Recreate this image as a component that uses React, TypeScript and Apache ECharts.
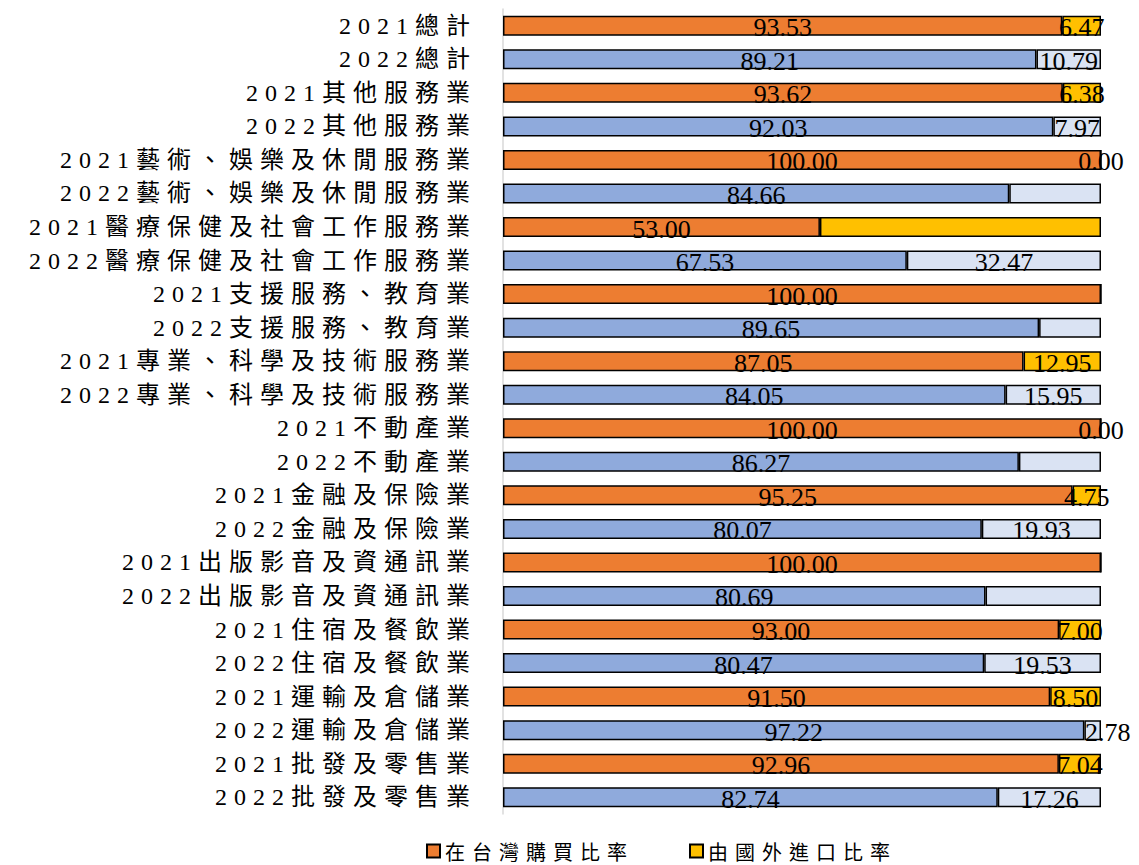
import React, { useEffect, useRef } from "react";
import * as echarts from "echarts";

const categories = [
  "2021總計", "2022總計",
  "2021其他服務業", "2022其他服務業",
  "2021藝術、娛樂及休閒服務業", "2022藝術、娛樂及休閒服務業",
  "2021醫療保健及社會工作服務業", "2022醫療保健及社會工作服務業",
  "2021支援服務、教育業", "2022支援服務、教育業",
  "2021專業、科學及技術服務業", "2022專業、科學及技術服務業",
  "2021不動產業", "2022不動產業",
  "2021金融及保險業", "2022金融及保險業",
  "2021出版影音及資通訊業", "2022出版影音及資通訊業",
  "2021住宿及餐飲業", "2022住宿及餐飲業",
  "2021運輸及倉儲業", "2022運輸及倉儲業",
  "2021批發及零售業", "2022批發及零售業",
];

const domesticRate = [
  93.53, 89.21, 93.62, 92.03, 100.0, 84.66, 53.0, 67.53, 100.0, 89.65, 87.05, 84.05,
  100.0, 86.27, 95.25, 80.07, 100.0, 80.69, 93.0, 80.47, 91.5, 97.22, 92.96, 82.74,
];

const importRate = [
  6.47, 10.79, 6.38, 7.97, 0.0, 15.34, 47.0, 32.47, 0.0, 10.35, 12.95, 15.95,
  0.0, 13.73, 4.75, 19.93, 0.0, 19.31, 7.0, 19.53, 8.5, 2.78, 7.04, 17.26,
];

// indices of import-rate labels that the original leaves unlabelled
const hiddenImportLabels = [5, 6, 8, 9, 13, 16, 17];
const hiddenDomesticLabels: number[] = [];

const seriesNames = ["在台灣購買比率", "由國外進口比率"];

const COLORS = {
  orange: "#ED7D31",
  yellow: "#FFC000",
  blue: "#8FAADC",
  lightBlue: "#DAE3F3",
};

export default function App() {
  const ref = useRef<HTMLDivElement>(null);

  useEffect(() => {
    if (!ref.current) return;
    const chart = echarts.init(ref.current, undefined, { renderer: "svg" });

    const is2022 = (c: string) => c.startsWith("2022");

    const labelBase = {
      show: true,
      position: "inside",
      color: "#000",
      fontFamily: "'Liberation Serif', 'Times New Roman', serif",
      fontSize: 26,
      offset: [0, 2],
      formatter: (p: any) => Number(p.value).toFixed(2),
    };

    const domesticData = domesticRate.map((v, i) => ({
      value: v,
      itemStyle: { color: is2022(categories[i]) ? COLORS.blue : COLORS.orange },
      label: hiddenDomesticLabels.includes(i) ? { show: false } : undefined,
    }));

    const importData = importRate.map((v, i) => ({
      value: v,
      itemStyle: { color: is2022(categories[i]) ? COLORS.lightBlue : COLORS.yellow },
      label: hiddenImportLabels.includes(i)
        ? { show: false }
        : categories[i] === "2022運輸及倉儲業"
        ? { offset: [15, 2] }
        : undefined,
    }));

    chart.setOption({
      animation: false,
      grid: { left: 503, right: 38, top: 9, bottom: 51, containLabel: false },
      xAxis: {
        type: "value",
        min: 0,
        max: 100,
        show: false,
      },
      yAxis: {
        type: "category",
        data: categories,
        inverse: true,
        axisLine: { show: true, lineStyle: { color: "#D9D9D9", width: 1.5 } },
        axisTick: { show: false },
        axisLabel: {
          color: "#000",
          fontSize: 24,
          margin: 26,
          fontFamily: "'Liberation Serif', 'Noto Sans CJK TC', serif",
        },
      },
      legend: {
        data: seriesNames,
        left: 421,
        top: 835,
        icon: "rect",
        itemWidth: 13,
        itemHeight: 13,
        itemGap: 104,
        textStyle: {
          color: "#000",
          fontSize: 20,
          lineHeight: 22,
          fontFamily: "'Noto Sans CJK TC', sans-serif",
        },
      },
      series: [
        {
          name: seriesNames[0],
          type: "bar",
          stack: "total",
          barWidth: 20,
          data: domesticData,
          itemStyle: { color: COLORS.orange, borderColor: "#000", borderWidth: 1.5 },
          label: labelBase,
        },
        {
          name: seriesNames[1],
          type: "bar",
          stack: "total",
          barWidth: 20,
          data: importData,
          itemStyle: { color: COLORS.yellow, borderColor: "#000", borderWidth: 1.5 },
          label: labelBase,
        },
      ],
    });

    return () => chart.dispose();
  }, []);

  return (
    <>
      <style>{`
        .cjk-chart text[style*="CJK"], .cjk-chart text[font-family*="CJK"] { letter-spacing: 7px; }
      `}</style>
      <div
        ref={ref}
        className="cjk-chart"
        style={{ position: "fixed", left: 0, top: 0, width: 1139, height: 865, background: "#fff" }}
      />
    </>
  );
}
